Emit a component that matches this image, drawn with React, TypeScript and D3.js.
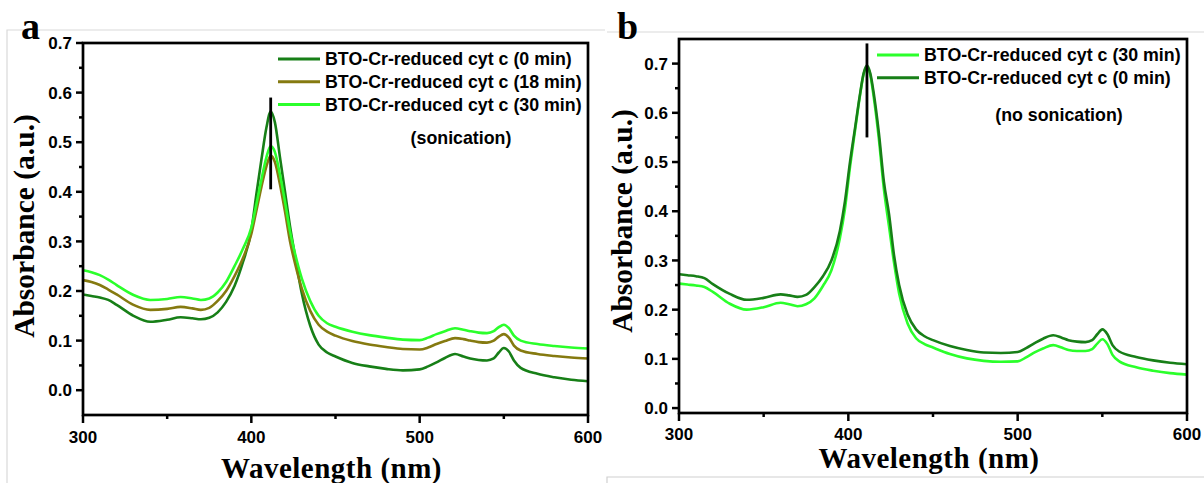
import React from "react";
import * as d3 from "d3";

// wavelength grid (nm) and absorbance values
const wavelengthsA = [300, 305, 310, 315, 320, 330, 340, 350, 358, 365, 370, 375, 380, 385, 390, 395, 400, 403, 406, 409, 411.5, 414, 417, 420, 423, 426, 430, 435, 440, 445, 450, 460, 470, 480, 490, 500, 505, 510, 515, 521, 526, 530, 535, 540, 544, 547, 550, 553, 556, 560, 570, 580, 590, 600];
const a0min = [0.193, 0.19, 0.187, 0.182, 0.172, 0.15, 0.138, 0.142, 0.147, 0.145, 0.143, 0.146, 0.157, 0.178, 0.21, 0.258, 0.322, 0.395, 0.465, 0.53, 0.562, 0.54, 0.47, 0.4, 0.33, 0.27, 0.195, 0.13, 0.092, 0.076, 0.068, 0.055, 0.048, 0.043, 0.04, 0.042, 0.048, 0.056, 0.065, 0.073, 0.068, 0.064, 0.061, 0.06, 0.064, 0.076, 0.085, 0.078, 0.06, 0.045, 0.033, 0.026, 0.021, 0.018];
const a18min = [0.222, 0.218, 0.212, 0.203, 0.193, 0.172, 0.162, 0.164, 0.168, 0.165, 0.162, 0.166, 0.18, 0.2, 0.23, 0.266, 0.315, 0.362, 0.41, 0.452, 0.473, 0.46, 0.415, 0.36, 0.3, 0.255, 0.205, 0.16, 0.132, 0.118, 0.11, 0.099, 0.092, 0.087, 0.083, 0.082, 0.086, 0.093, 0.099, 0.105, 0.103, 0.1, 0.097, 0.096, 0.1, 0.108, 0.113, 0.106, 0.09, 0.08, 0.073, 0.069, 0.066, 0.064];
const a30min = [0.242, 0.238, 0.232, 0.223, 0.212, 0.192, 0.182, 0.184, 0.188, 0.185, 0.182, 0.185, 0.197, 0.218, 0.25, 0.285, 0.328, 0.375, 0.425, 0.47, 0.492, 0.48, 0.435, 0.38, 0.32, 0.275, 0.225, 0.18, 0.15, 0.135, 0.128, 0.118, 0.111, 0.106, 0.102, 0.101, 0.106, 0.113, 0.119, 0.125, 0.122, 0.119, 0.116, 0.115, 0.119, 0.127, 0.132, 0.125, 0.11, 0.1, 0.093, 0.089, 0.086, 0.084];

const wavelengthsB = [300, 305, 310, 315, 320, 330, 340, 350, 360, 365, 370, 375, 380, 385, 390, 395, 398, 401, 404, 407, 409, 411, 413, 415, 418, 421, 424, 427, 430, 435, 440, 445, 450, 460, 470, 480, 490, 500, 505, 510, 515, 521, 526, 530, 535, 540, 544, 547, 550, 553, 556, 560, 570, 580, 590, 600];
const b0min = [0.272, 0.27, 0.268, 0.264, 0.252, 0.232, 0.22, 0.224, 0.231, 0.229, 0.226, 0.23, 0.246, 0.268, 0.3, 0.36, 0.42, 0.5, 0.57, 0.64, 0.68, 0.696, 0.68, 0.64, 0.56, 0.46, 0.395, 0.31, 0.25, 0.19, 0.16, 0.146, 0.138, 0.126, 0.118, 0.113, 0.112, 0.114, 0.122, 0.132, 0.141, 0.148, 0.143, 0.138, 0.135, 0.134, 0.138, 0.15, 0.16, 0.15, 0.128, 0.115, 0.104, 0.097, 0.092, 0.089];
const b30min = [0.253, 0.251, 0.249, 0.246, 0.236, 0.212, 0.2, 0.205, 0.214, 0.211, 0.207, 0.211, 0.223, 0.248, 0.28, 0.345, 0.405, 0.49, 0.565, 0.638, 0.678, 0.693, 0.676, 0.632, 0.548, 0.445, 0.37, 0.295, 0.233, 0.172, 0.142, 0.13, 0.123, 0.11, 0.101, 0.096, 0.094, 0.095, 0.103, 0.113, 0.121, 0.128, 0.123, 0.118, 0.116, 0.116, 0.12, 0.131, 0.14, 0.13, 0.108, 0.095, 0.083, 0.076, 0.071, 0.068];

const xTicks = [300, 400, 500, 600];
const xMinorTicks = [350, 450, 550];
const yTicks = [0, 0.1, 0.2, 0.3, 0.4, 0.5, 0.6, 0.7];
const yMinorTicks = [0.05, 0.15, 0.25, 0.35, 0.45, 0.55, 0.65];

const legendA = ["BTO-Cr-reduced cyt c (0 min)", "BTO-Cr-reduced cyt c (18 min)", "BTO-Cr-reduced cyt c (30 min)"];
const legendB = ["BTO-Cr-reduced cyt c (30 min)", "BTO-Cr-reduced cyt c (0 min)"];

const DARK = "#177f17";
const OLIVE = "#857a10";
const BRIGHT = "#2bff2b";

const sansBold = "'Liberation Sans', Arial, sans-serif";
const serifBold = "'Liberation Serif', 'Times New Roman', serif";

type Series = { values: number[]; color: string };

type PanelProps = {
  id: string;
  left: number;
  right: number;
  top: number;
  bottom: number;
  yDomain: [number, number];
  wavelengths: number[];
  series: Series[];
  legend: { label: string; color: string }[];
  legendX: number;
  legendY: number;
  note: string;
  noteX: number;
  noteY: number;
  marker: { nm: number; from: number; to: number };
  xLabelY: number;
  yLabelX: number;
  yLabelY: number;
  tickLabelY: number;
};

function Panel(p: PanelProps) {
  const x = d3.scaleLinear().domain([300, 600]).range([p.left, p.right]);
  const y = d3.scaleLinear().domain(p.yDomain).range([p.bottom, p.top]);
  const line = d3
    .line<number>()
    .x((_, i) => x(p.wavelengths[i]))
    .y((v) => y(v))
    .curve(d3.curveMonotoneX);

  const yVisible = yTicks.filter((t) => t >= p.yDomain[0] && t <= p.yDomain[1]);
  const yMinorVisible = yMinorTicks.filter((t) => t >= p.yDomain[0] && t <= p.yDomain[1]);

  return (
    <g>
      <defs>
        <clipPath id={`clip-${p.id}`}>
          <rect x={p.left} y={p.top} width={p.right - p.left} height={p.bottom - p.top} />
        </clipPath>
      </defs>
      <g clipPath={`url(#clip-${p.id})`}>
        {p.series.map((s, i) => (
          <path key={i} d={line(s.values) || ""} fill="none" stroke={s.color} strokeWidth={2.6} />
        ))}
      </g>
      <line
        x1={x(p.marker.nm)}
        x2={x(p.marker.nm)}
        y1={y(p.marker.from)}
        y2={y(p.marker.to)}
        stroke="#000"
        strokeWidth={2.8}
      />
      {/* frame */}
      <rect
        x={p.left}
        y={p.top}
        width={p.right - p.left}
        height={p.bottom - p.top}
        fill="none"
        stroke="#000"
        strokeWidth={2.7}
      />
      {/* y ticks */}
      {yVisible.map((t) => (
        <g key={t}>
          <line x1={p.left - 7} x2={p.left} y1={y(t)} y2={y(t)} stroke="#000" strokeWidth={2.5} />
          <text
            x={p.left - 11}
            y={y(t)}
            dy="0.36em"
            textAnchor="end"
            fontFamily={sansBold}
            fontWeight="bold"
            fontSize={17}
          >
            {t.toFixed(1)}
          </text>
        </g>
      ))}
      {yMinorVisible.map((t) => (
        <line key={t} x1={p.left - 4} x2={p.left} y1={y(t)} y2={y(t)} stroke="#000" strokeWidth={2.5} />
      ))}
      {/* x ticks */}
      {xTicks.map((t) => (
        <g key={t}>
          <line x1={x(t)} x2={x(t)} y1={p.bottom} y2={p.bottom + 8} stroke="#000" strokeWidth={2.5} />
          <text
            x={x(t)}
            y={p.tickLabelY}
            textAnchor="middle"
            fontFamily={sansBold}
            fontWeight="bold"
            fontSize={17}
          >
            {t}
          </text>
        </g>
      ))}
      {xMinorTicks.map((t) => (
        <line key={t} x1={x(t)} x2={x(t)} y1={p.bottom} y2={p.bottom + 4} stroke="#000" strokeWidth={2.5} />
      ))}
      {/* legend */}
      {p.legend.map((d, i) => (
        <g key={d.label} transform={`translate(${p.legendX}, ${p.legendY + i * 22.7})`}>
          <line x1={0} x2={42} y1={0} y2={0} stroke={d.color} strokeWidth={3} />
          <text x={47} y={0} dy="0.36em" fontFamily={sansBold} fontWeight="bold" fontSize={17.8}>
            {d.label}
          </text>
        </g>
      ))}
      <text
        x={p.noteX}
        y={p.noteY}
        textAnchor="middle"
        fontFamily={sansBold}
        fontWeight="bold"
        fontSize={17.8}
      >
        {p.note}
      </text>
      {/* axis titles */}
      <text
        x={(p.left + p.right) / 2 - 4}
        y={p.xLabelY}
        textAnchor="middle"
        fontFamily={serifBold}
        fontWeight="bold"
        fontSize={29}
        letterSpacing={0.5}
      >
        Wavelength (nm)
      </text>
      <text
        transform={`translate(${p.yLabelX}, ${p.yLabelY}) rotate(-90)`}
        textAnchor="middle"
        fontFamily={serifBold}
        fontWeight="bold"
        fontSize={29.5}
      >
        Absorbance (a.u.)
      </text>
    </g>
  );
}

export default function App() {
  return (
    <svg
      width={1204}
      height={483}
      style={{ position: "absolute", left: 0, top: 0, background: "#fff" }}
    >
      <rect x={0} y={0} width={1204} height={483} fill="#fff" />
      {/* faint panel borders */}
      <path d="M7,483 V30 H605" fill="none" stroke="#d9d9d9" strokeWidth={1.2} />
      <path d="M607,32 H1204" fill="none" stroke="#d9d9d9" strokeWidth={1.2} />
      <path d="M607,483 V477 H1204" fill="none" stroke="#d0d0d0" strokeWidth={1.2} />

      <Panel
        id="a"
        left={83}
        right={588}
        top={43}
        bottom={415}
        yDomain={[-0.05, 0.7]}
        wavelengths={wavelengthsA}
        series={[
          { values: a0min, color: DARK },
          { values: a18min, color: OLIVE },
          { values: a30min, color: BRIGHT },
        ]}
        legend={[
          { label: legendA[0], color: DARK },
          { label: legendA[1], color: OLIVE },
          { label: legendA[2], color: BRIGHT },
        ]}
        legendX={278}
        legendY={59}
        note="(sonication)"
        noteX={461}
        noteY={144}
        marker={{ nm: 411.5, from: 0.59, to: 0.405 }}
        xLabelY={478}
        yLabelX={34}
        yLabelY={226}
        tickLabelY={443}
      />
      <Panel
        id="b"
        left={679}
        right={1187}
        top={39}
        bottom={413}
        yDomain={[-0.01, 0.75]}
        wavelengths={wavelengthsB}
        series={[
          { values: b30min, color: BRIGHT },
          { values: b0min, color: DARK },
        ]}
        legend={[
          { label: legendB[0], color: BRIGHT },
          { label: legendB[1], color: DARK },
        ]}
        legendX={877}
        legendY={55}
        note="(no sonication)"
        noteX={1059}
        noteY={121}
        marker={{ nm: 411, from: 0.741, to: 0.55 }}
        xLabelY={468}
        yLabelX={632}
        yLabelY={221}
        tickLabelY={440}
      />
      <text x={21} y={39} fontFamily={serifBold} fontWeight="bold" fontSize={38}>
        a
      </text>
      <text x={617} y={39} fontFamily={serifBold} fontWeight="bold" fontSize={38}>
        b
      </text>
    </svg>
  );
}
